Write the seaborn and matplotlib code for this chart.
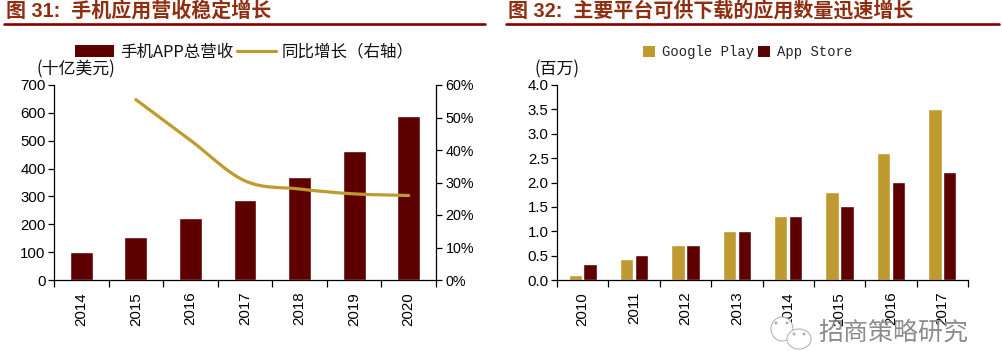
import numpy as np
import pandas as pd
import matplotlib
matplotlib.use("Agg")
import matplotlib.pyplot as plt
import seaborn as sns
from matplotlib.path import Path
from matplotlib.patches import PathPatch, Patch, Ellipse
from matplotlib.lines import Line2D

years_left = ["2014", "2015", "2016", "2017", "2018", "2019", "2020"]
revenue = [100, 155, 221, 287, 369, 463, 587]
growth_years = [1, 2, 3, 4, 5, 6]
growth = [55.5, 43, 30.5, 28, 26.5, 26]

years_right = ["2010", "2011", "2012", "2013", "2014", "2015", "2016", "2017"]
google_play = [0.11, 0.43, 0.71, 1.01, 1.31, 1.81, 2.61, 3.51]
app_store = [0.33, 0.51, 0.71, 1.01, 1.31, 1.51, 2.01, 2.21]

title_left = "图 31:  手机应用营收稳定增长"
title_right = "图 32:  主要平台可供下载的应用数量迅速增长"

DARK = "#5F0000"
GOLD = "#BF9A30"
TITLE = "#8F2F12"
RULE = "#870000"
W, H = 1002, 351

sns.set_theme(style="white")
CJK = ["Noto Sans CJK SC", "DejaVu Sans"]
plt.rcParams["font.family"] = ["Liberation Sans", "Noto Sans CJK SC"]
plt.rcParams["axes.unicode_minus"] = False

fig = plt.figure(figsize=(W / 100, H / 100), dpi=100)


def px_axes(x0, x1, ytop, ybot):
    return fig.add_axes([x0 / W, 1 - ybot / H, (x1 - x0) / W, (ybot - ytop) / H])


def fx(x):
    return x / W


def fy(y):
    return 1 - y / H


def style(ax, labels):
    n = len(labels)
    ax.set_xlim(-0.5, n - 0.5)
    ax.set_xlabel("")
    ax.set_ylabel("")
    ax.spines["top"].set_visible(False)
    ax.spines["right"].set_visible(False)
    for s in ["left", "bottom"]:
        ax.spines[s].set_color("black")
        ax.spines[s].set_linewidth(0.9)
    ax.set_xticks(np.arange(n))
    ax.set_xticklabels(labels, rotation=90, fontsize=10.9, color="black")
    ax.set_xticks(np.arange(n + 1) - 0.5, minor=True)
    ax.tick_params(axis="x", which="major", length=0, pad=8.5)
    ax.tick_params(axis="x", which="minor", length=5, width=0.9, color="black", bottom=True)
    ax.tick_params(axis="y", left=True, length=4, width=0.9, color="black", labelsize=10.8, pad=2, labelcolor="black")


# ---- left panel
ax = px_axes(54, 436, 85, 280)
df_left = pd.DataFrame({"year": years_left, "revenue": revenue})
sns.barplot(data=df_left, x="year", y="revenue", color=DARK, saturation=1, width=0.42, ax=ax)
ax.set_ylim(0, 700)
ax.set_yticks(np.arange(0, 701, 100))
style(ax, years_left)

ax2 = ax.twinx()
ax2.set_ylim(0, 60)
ax2.set_yticks(np.arange(0, 61, 10))
ax2.set_yticklabels([f"{v}%" for v in range(0, 61, 10)])
ax2.grid(False)
for s in ["top", "left", "bottom"]:
    ax2.spines[s].set_visible(False)
ax2.spines["right"].set_color("black")
ax2.spines["right"].set_linewidth(0.9)
ax2.tick_params(axis="y", right=True, length=4, width=0.9, color="black", labelsize=10.3, pad=3, labelcolor="black")

# smoothed line, as the source draws it: Bezier segments through the data points
xs = np.array(growth_years, dtype=float)
ys = np.array(growth, dtype=float)
slopes = np.gradient(ys, xs)
verts = [(xs[0], ys[0])]
codes = [Path.MOVETO]
for i in range(len(xs) - 1):
    d = (xs[i + 1] - xs[i]) / 3
    verts += [(xs[i] + d, ys[i] + slopes[i] * d),
              (xs[i + 1] - d, ys[i + 1] - slopes[i + 1] * d),
              (xs[i + 1], ys[i + 1])]
    codes += [Path.CURVE4] * 3
ax2.add_patch(PathPatch(Path(verts, codes), facecolor="none", edgecolor=GOLD, linewidth=2.3, capstyle="round"))

handles = [Patch(facecolor=DARK, edgecolor="none"), Line2D([], [], color=GOLD, linewidth=2.3)]
leg = fig.legend(handles, ["手机APP总营收", "同比增长（右轴）"], loc="center left",
                 bbox_to_anchor=(fx(75), fy(52)), ncol=2, frameon=False, handlelength=2.38,
                 handleheight=0.74, handletextpad=0.35, columnspacing=0.2, borderpad=0, borderaxespad=0,
                 prop={"family": CJK, "size": 11.9})
for t in leg.get_texts():
    t.set_color("#111111")
fig.text(fx(36), fy(69.5), "(十亿美元)", family=CJK, fontsize=12.2, color="#111111", va="center")

# ---- right panel
axr = px_axes(557, 968, 85, 280)
df_right = pd.DataFrame({
    "year": years_right * 2,
    "platform": ["Google Play"] * len(years_right) + ["App Store"] * len(years_right),
    "apps": google_play + app_store,
})
sns.barplot(data=df_right, x="year", y="apps", hue="platform", palette=[GOLD, DARK], saturation=1,
            width=0.58, gap=0.1, ax=axr, legend=False)
axr.set_ylim(0, 4)
axr.set_yticks(np.arange(0, 4.01, 0.5))
axr.set_yticklabels([f"{v:.1f}" for v in np.arange(0, 4.01, 0.5)])
style(axr, years_right)

handles_r = [Patch(facecolor=GOLD, edgecolor="none"), Patch(facecolor=DARK, edgecolor="none")]
fig.legend(handles_r, ["Google Play", "App Store"], loc="center left",
           bbox_to_anchor=(fx(643), fy(52)), ncol=2, frameon=False, handlelength=0.87,
           handleheight=0.87, handletextpad=0.5, columnspacing=0.3, borderpad=0, borderaxespad=0,
           prop={"family": "Liberation Mono", "size": 10})
fig.text(fx(535), fy(69.5), "(百万)", family=CJK, fontsize=12.2, color="#111111", va="center")

# ---- titles and rules
for x, txt in [(6, title_left), (508, title_right)]:
    fig.text(fx(x), fy(11), txt, family=["Liberation Sans", "Noto Sans CJK SC"], fontsize=14.4,
             fontweight="bold", color=TITLE, va="center")
fig.add_artist(Line2D([fx(4), fx(485)], [fy(24), fy(24)], color=RULE, linewidth=1.9, transform=fig.transFigure))
fig.add_artist(Line2D([fx(506), fx(999)], [fy(24), fy(24)], color=RULE, linewidth=1.9, transform=fig.transFigure))

# ---- watermark
for cx, cy, w, h in [(782, 329, 22, 24), (799, 339, 24, 20)]:
    fig.add_artist(Ellipse((fx(cx), fy(cy)), w / W, h / H, facecolor="white", edgecolor="#B5B5B5",
                           linewidth=0.8, transform=fig.transFigure))
for cx, cy in [(794, 334), (804, 334), (776, 323), (787, 323)]:
    fig.add_artist(Ellipse((fx(cx), fy(cy)), 3 / W, 3 / H, facecolor="#B0B0B0", edgecolor="none",
                           transform=fig.transFigure))
fig.text(fx(818), fy(333), "招商策略研究", family=CJK, fontsize=18, color="#8C8C8C", va="center")

fig.savefig("out.png", dpi=100)
